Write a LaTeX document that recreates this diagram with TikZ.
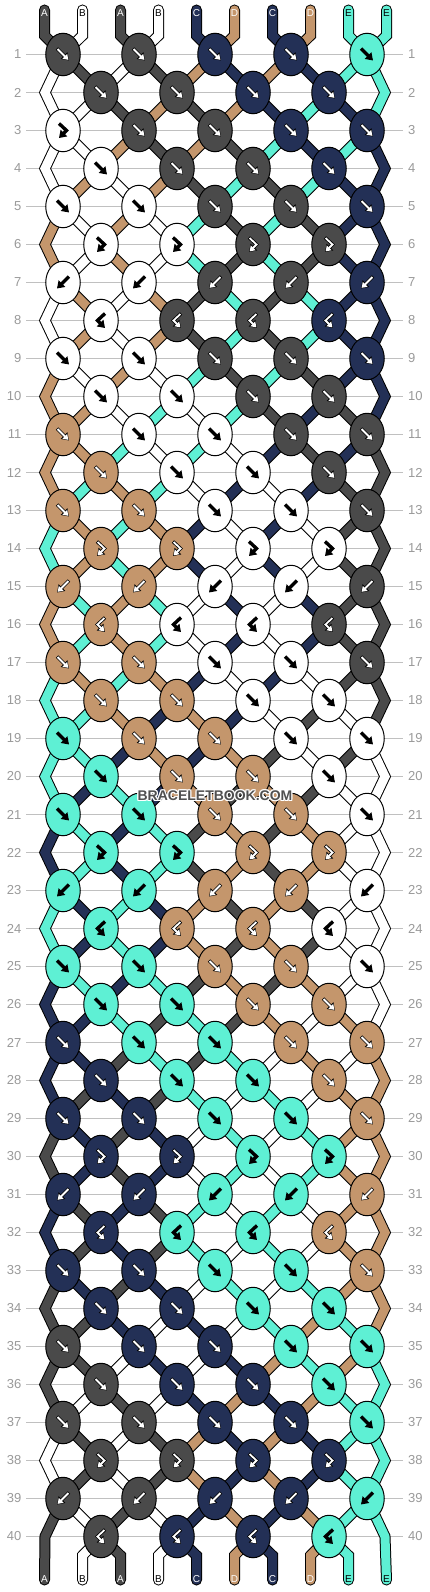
\documentclass[tikz,border=0pt]{standalone}
\usepackage{fontspec}
\setmainfont{Liberation Sans}
\usepackage{xstring}
\usetikzlibrary{shapes.geometric,arrows.meta}

\definecolor{cA}{HTML}{4A4A4A}
\definecolor{cB}{HTML}{FFFFFF}
\definecolor{cC}{HTML}{233056}
\definecolor{cD}{HTML}{C4966C}
\definecolor{cE}{HTML}{5EF0D4}
% arrow / letter colour on each thread colour
\colorlet{aA}{white}
\colorlet{aB}{black}
\colorlet{aC}{white}
\colorlet{aD}{white}
\colorlet{aE}{black}
\definecolor{numgray}{HTML}{9A9A9A}
\definecolor{linegray}{HTML}{C0C0C0}
\definecolor{markgray}{HTML}{505050}

% row / knot colours / knot types / threads after the row
% f forward, b backward, p forward-backward, q backward-forward
\def\rows{1/AACCE/fffff/BABADCDCEE, 2/AACC/ffff/BBADADCECE,
3/BAACC/pffff/BBDADAECEC, 4/BAAC/ffff/BDBDAEAECC,
5/BBAAC/fffff/DBDBEAEACC, 6/BBAA/pppp/DBDBEAEACC,
7/BBAAC/bbbbb/BDBDAEAECC, 8/BAAC/qqqq/BDBDAEAECC,
9/BBAAC/fffff/DBDBEAEACC, 10/BBAA/ffff/DDBEBEACAC,
11/DBBAA/fffff/DDEBEBCACA, 12/DBBA/ffff/DEDEBCBCAA,
13/DDBBA/fffff/EDEDCBCBAA, 14/DDBB/pppp/EDEDCBCBAA,
15/DDBBA/bbbbb/DEDEBCBCAA, 16/DBBA/qqqq/DEDEBCBCAA,
17/DDBBA/fffff/EDEDCBCBAA, 18/DDBB/ffff/EEDCDCBABA,
19/EDDBB/fffff/EECDCDABAB, 20/EDDB/ffff/ECECDADABB,
21/EEDDB/fffff/CECEADADBB, 22/EEDD/pppp/CECEADADBB,
23/EEDDB/bbbbb/ECECDADABB, 24/EDDB/qqqq/ECECDADABB,
25/EEDDB/fffff/CECEADADBB, 26/EEDD/ffff/CCEAEADBDB,
27/CEEDD/fffff/CCAEAEBDBD, 28/CEED/ffff/CACAEBEBDD,
29/CCEED/fffff/ACACBEBEDD, 30/CCEE/pppp/ACACBEBEDD,
31/CCEED/bbbbb/CACAEBEBDD, 32/CEED/qqqq/CACAEBEBDD,
33/CCEED/fffff/ACACBEBEDD, 34/CCEE/ffff/AACBCBEDED,
35/ACCEE/fffff/AABCBCDEDE, 36/ACCE/ffff/ABABCDCDEE,
37/AACCE/fffff/BABADCDCEE, 38/AACC/pppp/BABADCDCEE,
39/AACCE/bbbbb/ABABCDCDEE, 40/ACCE/qqqq/ABABCDCDEE}
\expandafter\gdef\csname st0\endcsname{ABABCDCDEE}

\tikzset{
  knot/.style={ellipse, draw=black, line width=1pt, minimum width=34.5pt,
    minimum height=42.5pt, inner sep=0pt},
  strandout/.style={line width=11pt, color=black},
  strandin/.style={line width=9pt},
  arrout/.style={line width=3.4pt, black, -{Triangle[length=7pt,width=9pt]}},
  arrin/.style={line width=1.8pt, arcol, shorten <=0.8pt, shorten >=0.9pt,
    -{Triangle[length=5pt,width=6.4pt]}},
  rownum/.style={numgray, inner sep=0pt, font=\fontsize{13}{13}\selectfont},
  letter/.style={inner sep=0pt, font=\fontsize{10}{10}\selectfont},
  pics/arf/.style={code={
    \draw[arrout] (-6,-6) -- (6,6); \draw[arrin] (-6,-6) -- (6,6);}},
  pics/arb/.style={code={
    \draw[arrout] (6,-6) -- (-6,6); \draw[arrin] (6,-6) -- (-6,6);}},
  pics/arp/.style={code={
    \draw[arrout] (-4,-7) -- (3.5,0) -- (-4,7.5);
    \draw[arrin] (-4,-7) -- (3.5,0) -- (-4,7.5);}},
  pics/arq/.style={code={
    \draw[arrout] (4,-7) -- (-3.5,0) -- (4,7.5);
    \draw[arrin] (4,-7) -- (-3.5,0) -- (4,7.5);}},
}

\begin{document}
\begin{tikzpicture}[x=1pt, y=-1pt]
\useasboundingbox (0,0) rectangle (430,1592);
\fill[white] (0,0) rectangle (430,1592);

% rows
\foreach \r in {1,...,40} {
  \pgfmathsetmacro\py{54.5+38*(\r-1)}
  \draw[linegray, line width=1pt] (26,\py) -- (403,\py);
  \node[rownum, anchor=east] (nl-\r) at (21.5,\py) {\r};
  \node[rownum, anchor=west] (nr-\r) at (408,\py) {\r};
  \foreach \i in {1,...,10} {
    \pgfmathsetmacro\px{isodd(\r) ? 63+76*int((\i-1)/2) : (\i==1 ? 45 : (\i==10 ? 385 : 25+76*int(\i/2)))}
    \coordinate (p-\r-\i) at (\px,\py);
  }
}
% thread ends
\foreach \i in {1,...,10} {
  \pgfmathsetmacro\tx{44.5+38*(\i-1)}
  \coordinate (t-\i) at (\tx,10);
  \coordinate (u-\i) at (\tx,35.5);
  \coordinate (w-\i) at (\tx,1555.5);
  \coordinate (b-\i) at (\tx,1580);
}
\foreach \r/\k/\t/\s in \rows {\expandafter\xdef\csname st\r\endcsname{\s}}

% threads: outline first, then colour
\foreach \sty in {strandout,strandin} {
  \foreach \i in {1,...,10} {
    \StrChar{\csname st0\endcsname}{\i}[\col]
    \draw[color=c\col, \sty, line cap=round] (t-\i) -- (u-\i) -- (p-1-\i);
  }
  \foreach \r in {1,...,39} {
    \pgfmathtruncatemacro\rn{\r+1}
    \foreach \i in {2,...,9} {
      \StrChar{\csname st\r\endcsname}{\i}[\col]
      \draw[color=c\col, \sty] (p-\r-\i) -- (p-\rn-\i);
    }
  }
  % edges
  \foreach \r in {2,4,...,38} {
    \pgfmathtruncatemacro\rp{\r-1}
    \pgfmathtruncatemacro\rn{\r+1}
    \foreach \i in {1,10} {
      \StrChar{\csname st\r\endcsname}{\i}[\col]
      \draw[color=c\col, \sty] (p-\rp-\i) -- (p-\r-\i) -- (p-\rn-\i);
    }
  }
  \foreach \i in {1,10} {
    \StrChar{\csname st40\endcsname}{\i}[\col]
    \draw[color=c\col, \sty, line cap=round] (p-39-\i) -- (p-40-\i) -- (b-\i);
  }
  \foreach \i in {2,...,9} {
    \StrChar{\csname st40\endcsname}{\i}[\col]
    \draw[color=c\col, \sty, line cap=round] (p-40-\i) -- (w-\i) -- (b-\i);
  }
}

% knots
\foreach \r/\k/\t/\s in \rows {
  \pgfmathtruncatemacro\nk{isodd(\r) ? 5 : 4}
  \foreach \j in {1,...,\nk} {
    \pgfmathtruncatemacro\pos{isodd(\r) ? 2*\j-1 : 2*\j}
    \StrChar{\k}{\j}[\kc]
    \StrChar{\t}{\j}[\kt]
    \colorlet{arcol}{a\kc}
    \node[knot, fill=c\kc] (k-\r-\j) at (p-\r-\pos) {};
    \pic at (k-\r-\j) {ar\kt};
  }
}

% thread letters
\foreach \i in {1,...,10} {
  \pgfmathsetmacro\tx{44.5+38*(\i-1)}
  \StrChar{\csname st0\endcsname}{\i}[\col]
  \node[letter, text=a\col] (lt-\i) at (\tx,13) {\col};
  \node[letter, text=a\col] (lb-\i) at (\tx,1579) {\col};
}

% mark
\foreach \dx/\dy [count=\n] in {-1/0,1/0,0/-1,0/1,-1/-1,1/1,-1/1,1/-1} {
  \node[white, font=\fontsize{14}{14}\selectfont\bfseries] (wm-\n) at (215+\dx,796+\dy) {BRACELETBOOK.COM};
}
\node[markgray, font=\fontsize{14}{14}\selectfont\bfseries] (wm) at (215,796) {BRACELETBOOK.COM};

\end{tikzpicture}
\end{document}
